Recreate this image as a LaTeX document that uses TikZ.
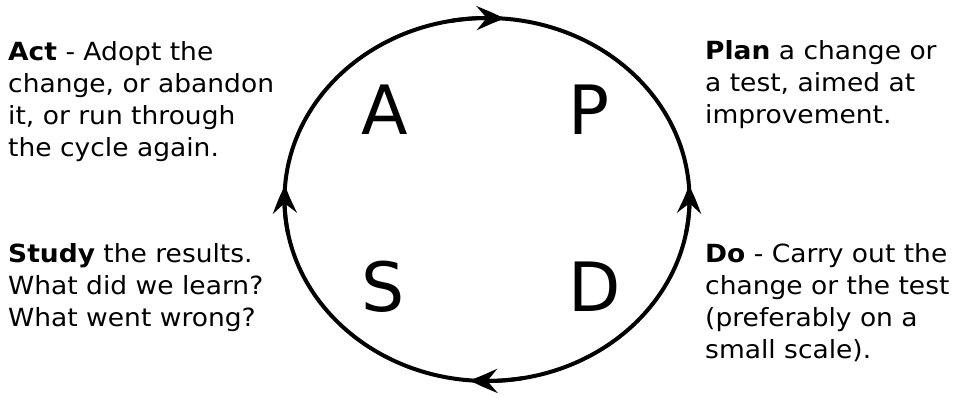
\documentclass[tikz,border=0pt]{standalone}
\usepackage{fontspec}
\setmainfont{DejaVu Sans}[FakeStretch=1.06]
\newfontfamily\bigfont{DejaVu Sans}
\usetikzlibrary{arrows.meta,bending}
\tikzset{
  desc/.style={anchor=base west, inner sep=0pt, align=left, font=\fontsize{25}{32}\selectfont},
  bigletter/.style={anchor=base west, inner sep=0pt, font=\bigfont\fontsize{68}{68}\selectfont},
  cyc/.style={line width=4pt},
  tip/.style={line width=4pt, -{Stealth[length=28pt,width=24pt,inset=10pt,bend]}}
}
\begin{document}
\begin{tikzpicture}[x=1pt,y=1pt]
\useasboundingbox (0,0) rectangle (963,398);
\coordinate (c) at (487,198.5);
\draw[cyc] (c) ellipse[x radius=202.5, y radius=181.5];
\draw[tip] (c) ++(100:202.5 and 181.5) arc[start angle=100, end angle=85, x radius=202.5, y radius=181.5];
\draw[tip] (c) ++(-11:202.5 and 181.5) arc[start angle=-11, end angle=4.5, x radius=202.5, y radius=181.5];
\draw[tip] (c) ++(280:202.5 and 181.5) arc[start angle=280, end angle=265, x radius=202.5, y radius=181.5];
\draw[tip] (c) ++(191:202.5 and 181.5) arc[start angle=191, end angle=175.5, x radius=202.5, y radius=181.5];
\node[bigletter] (A) at (361,263) {A};
\node[bigletter] (P) at (568,263) {P};
\node[bigletter] (S) at (361,86) {S};
\node[bigletter] (D) at (568,86) {D};
\node[desc] (act) at (8,241) {\textbf{Act} - Adopt the\\change, or abandon\\it, or run through\\the cycle again.};
\node[desc] (plan) at (705,274) {\textbf{Plan} a change or\\a test, aimed at\\improvement.};
\node[desc] (study) at (8,71) {\textbf{Study} the results.\\What did we learn?\\What went wrong?};
\node[desc] (do) at (705,39) {\textbf{Do} - Carry out the\\change or the test\\(preferably on a\\small scale).};
\end{tikzpicture}
\end{document}
